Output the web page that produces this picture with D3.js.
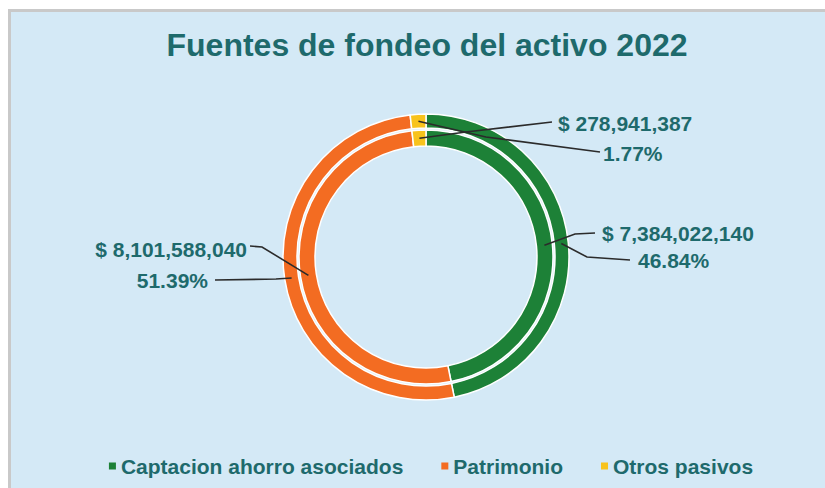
<!DOCTYPE html>
<html>
<head>
<meta charset="utf-8">
<script src="https://cdn.jsdelivr.net/npm/d3@7"></script>
<style>
  html, body { margin: 0; padding: 0; background: #ffffff; }
  svg { display: block; }
  text { font-family: "Liberation Sans", Arial, sans-serif; font-weight: bold; }
</style>
</head>
<body>
<svg id="chart" width="825" height="488"></svg>
<script>
  // data
  const categories = ['Captacion ahorro asociados', 'Patrimonio', 'Otros pasivos'];
  const values = [7384022140, 8101588040, 278941387];
  const percents = ['46.84%', '51.39%', '1.77%'];
  const valueLabels = ['$ 7,384,022,140', '$ 8,101,588,040', '$ 278,941,387'];
  const colors = ['#1d8137', '#f36c22', '#f8c31c'];

  const width = 825;
  const height = 488;
  const cx = 426;
  const cy = 257;
  const textColor = '#1e6a6c';

  const svg = d3.select('#chart');

  // frame
  svg.append('rect')
    .attr('x', 8).attr('y', 9)
    .attr('width', width - 8).attr('height', height - 9)
    .attr('fill', '#d4e9f6');
  svg.append('path')
    .attr('d', `M9.5,${height} V10.5 H${width}`)
    .attr('fill', 'none')
    .attr('stroke', '#c9c9c9')
    .attr('stroke-width', 3);

  svg.append('text')
    .attr('x', 427)
    .attr('y', 56)
    .attr('text-anchor', 'middle')
    .attr('font-size', 32)
    .attr('fill', textColor)
    .text('Fuentes de fondeo del activo 2022');

  const pie = d3.pie().sort(null).value(d => d);
  const arcs = pie(values);

  // two rings, same series (Excel doughnut with two series)
  const rings = [
    { name: 'outer', inner: 129, outer: 143, labels: percents },
    { name: 'inner', inner: 111, outer: 127, labels: valueLabels }
  ];

  const g = svg.append('g').attr('transform', `translate(${cx},${cy})`);

  rings.forEach(ring => {
    const arc = d3.arc().innerRadius(ring.inner).outerRadius(ring.outer);
    ring.arc = arc;
    g.append('g')
      .selectAll('path')
      .data(arcs)
      .join('path')
      .attr('d', arc)
      .attr('fill', (d, i) => colors[i])
      .attr('stroke', '#ffffff')
      .attr('stroke-width', 1.5);
  });

  // label placement, offsets from the centre
  const labelLayout = [
    { ring: 0, i: 0, elbow: [161, 0], end: [204, 3], tx: 212, ty: 3, anchor: 'start' },
    { ring: 0, i: 1, elbow: [-150, 22], end: [-211, 23], tx: -218, ty: 23, anchor: 'end' },
    { ring: 0, i: 2, elbow: [60, -120], end: [174, -105], tx: 177, ty: -104, anchor: 'start' },
    { ring: 1, i: 0, elbow: [149, -23], end: [169, -24], tx: 176, ty: -24, anchor: 'start' },
    { ring: 1, i: 1, elbow: [-164, -10], end: [-176, -11], tx: -179, ty: -8, anchor: 'end' },
    { ring: 1, i: 2, elbow: [40, -125], end: [126, -135], tx: 132, ty: -134, anchor: 'start' }
  ];

  const line = d3.line();
  labelLayout.forEach(l => {
    const ring = rings[l.ring];
    const a = arcs[l.i];
    const c = ring.arc.centroid(a);
    g.append('path')
      .attr('d', line([c, l.elbow, l.end]))
      .attr('fill', 'none')
      .attr('stroke', '#2b2b2b')
      .attr('stroke-width', 1.6);
    g.append('text')
      .attr('x', l.tx)
      .attr('y', l.ty)
      .attr('dy', '0.36em')
      .attr('text-anchor', l.anchor)
      .attr('font-size', 21)
      .attr('fill', textColor)
      .text(ring.labels[l.i]);
  });

  // legend
  const legend = svg.append('g');
  const items = legend.selectAll('g')
    .data(categories)
    .join('g');
  items.append('rect')
    .attr('width', 7).attr('height', 7)
    .attr('y', -3.5)
    .attr('fill', (d, i) => colors[i]);
  items.append('text')
    .attr('x', 12)
    .attr('dy', '0.36em')
    .attr('font-size', 21)
    .attr('fill', textColor)
    .text(d => d);

  let x = 0;
  items.each(function() {
    const item = d3.select(this);
    item.attr('transform', `translate(${x},0)`);
    x += 12 + item.select('text').node().getComputedTextLength() + 38;
  });
  const total = x - 38;
  legend.attr('transform', `translate(${431 - total / 2},466)`);
</script>
</body>
</html>
